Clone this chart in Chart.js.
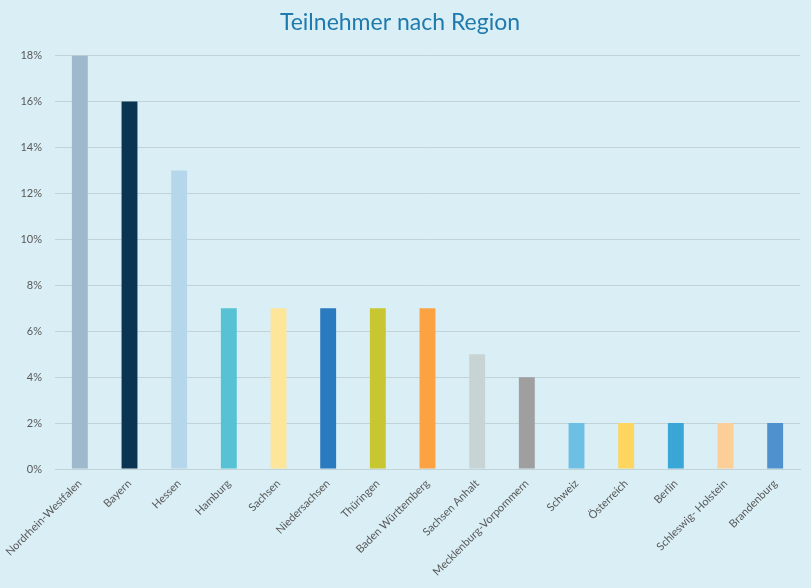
<!DOCTYPE html>
<html>
<head>
<meta charset="utf-8">
<script src="https://cdn.jsdelivr.net/npm/chart.js@4"></script>
<style>
  html, body { margin: 0; padding: 0; background: #d9eef5; }
  #wrap { width: 811px; height: 588px; }
</style>
</head>
<body>
<div id="wrap"><canvas id="regionChart" width="811" height="588"></canvas></div>
<script>
// Regions and share of participants (%)
const regions = [
  'Nordrhein-Westfalen', 'Bayern', 'Hessen', 'Hamburg', 'Sachsen',
  'Niedersachsen', 'Thüringen', 'Baden Württemberg', 'Sachsen Anhalt',
  'Mecklenburg-Vorpommern', 'Schweiz', 'Österreich', 'Berlin',
  'Schleswig- Holstein', 'Brandenburg'
];
const shares = [18, 16, 13, 7, 7, 7, 7, 7, 5, 4, 2, 2, 2, 2, 2];
const barColors = [
  '#9fb8cc', '#0b3352', '#b6d6ec', '#56c2d3', '#fde599',
  '#2a7abf', '#c8c732', '#fca243', '#c8d4d4', '#a09fa0',
  '#6dbfe3', '#fdd55f', '#3aa6d8', '#fdcf98', '#4f90cf'
];
const yTicks = [0, 2, 4, 6, 8, 10, 12, 14, 16, 18];

const fontFamily = 'Lato, "Noto Sans", sans-serif';

const canvas = document.getElementById('regionChart');
new Chart(canvas.getContext('2d'), {
  type: 'bar',
  data: {
    labels: regions,
    datasets: [{
      data: shares,
      backgroundColor: barColors,
      borderWidth: 0,
      barPercentage: 0.64,
      categoryPercentage: 0.5
    }]
  },
  options: {
    responsive: false,
    animation: false,
    layout: { padding: { left: 0, right: 11, top: 0, bottom: 0 } },
    plugins: {
      legend: { display: false },
      tooltip: { enabled: false },
      title: {
        display: true,
        text: 'Teilnehmer nach Region',
        color: '#1f7aad',
        font: { family: fontFamily, size: 23, weight: '400' },
        padding: { top: 9, bottom: 19 }
      }
    },
    scales: {
      x: {
        grid: { display: false, drawTicks: false },
        border: { display: true, color: '#c2d3d8', width: 1 },
        ticks: {
          color: '#595959',
          font: { family: fontFamily, size: 11 },
          minRotation: 45,
          maxRotation: 45,
          autoSkip: false,
          padding: 8
        },
        afterFit: s => {
          s.height = 119;
          // long rotated first label may hang into the margin, as in the original
          s.paddingLeft = 0;
          s.paddingRight = 0;
        }
      },
      y: {
        min: 0,
        max: 18,
        afterBuildTicks: s => { s.ticks = yTicks.map(v => ({ value: v })); },
        grid: { color: '#c2d3d8', drawTicks: false, lineWidth: 1 },
        border: { display: false },
        ticks: {
          color: '#595959',
          font: { family: fontFamily, size: 11 },
          padding: 13,
          callback: v => v + '%'
        },
        afterFit: s => { s.width = 55; }
      }
    }
  }
});
</script>
</body>
</html>
